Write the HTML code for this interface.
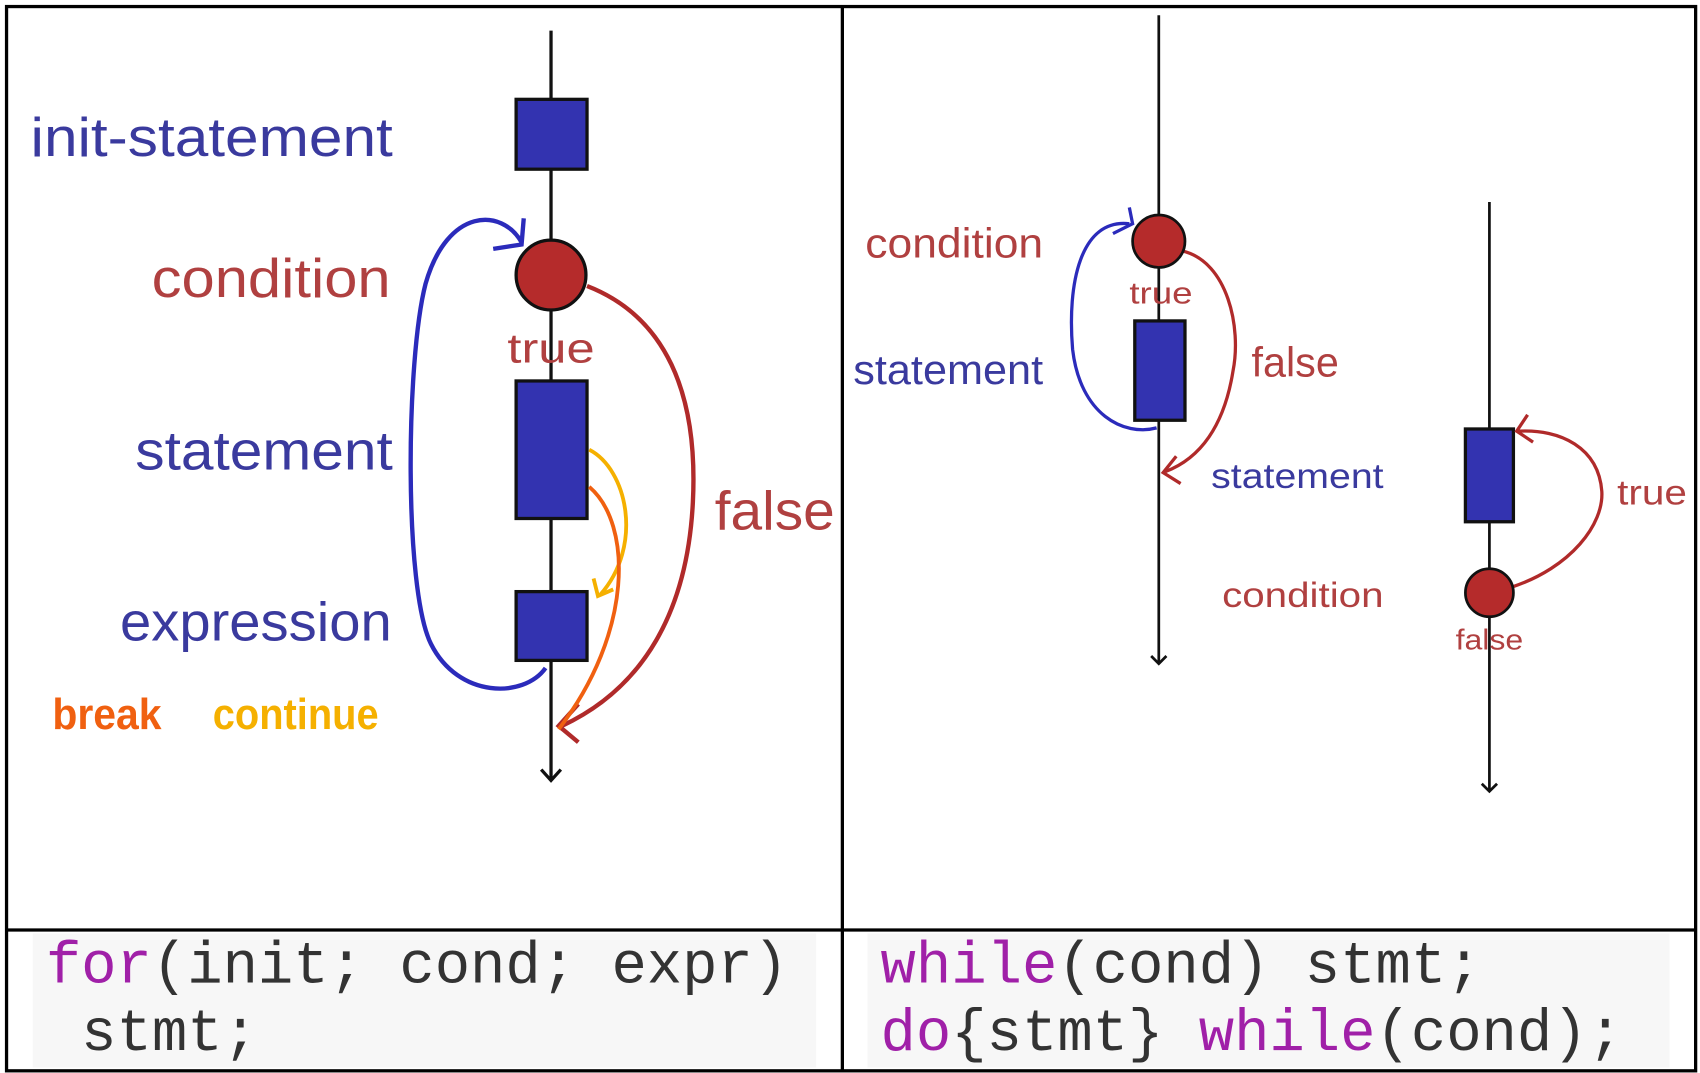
<!DOCTYPE html>
<html><head><meta charset="utf-8"><style>
html,body{margin:0;padding:0;background:#fff;}
svg{display:block;}
text{font-family:"Liberation Sans",sans-serif;}
.m{font-family:"Liberation Mono",monospace;font-size:54px;fill:#333;}
.k{fill:#a020a8;}
</style></head><body>
<svg width="1700" height="1073" viewBox="0 0 1558 983" preserveAspectRatio="none" xmlns="http://www.w3.org/2000/svg">
<rect x="0" y="0" width="1558" height="983" fill="#fff"/>
<rect x="30" y="855" width="718" height="123" fill="#f7f7f7"/>
<rect x="795" y="855" width="735" height="123" fill="#f7f7f7"/>
<rect x="6" y="6" width="1548" height="975" fill="none" stroke="#000" stroke-width="3"/>
<line x1="772" y1="6" x2="772" y2="981" stroke="#000" stroke-width="3"/>
<line x1="6" y1="852" x2="1554" y2="852" stroke="#000" stroke-width="3"/>

<!-- left diagram -->
<line x1="505" y1="28" x2="505" y2="715" stroke="#111" stroke-width="3"/>
<polyline points="496,705 505,715 514,705" fill="none" stroke="#111" stroke-width="3"/>
<rect x="473" y="91" width="65" height="64" fill="#3333b0" stroke="#111" stroke-width="3"/>
<rect x="473" y="349" width="65" height="126" fill="#3333b0" stroke="#111" stroke-width="3"/>
<rect x="473" y="542" width="65" height="63" fill="#3333b0" stroke="#111" stroke-width="3"/>
<path d="M500,612 C480,640 420,640 395,590 C370,540 372,330 390,260 C410,190 460,190 478,222" fill="none" stroke="#2b2bbb" stroke-width="4"/>
<polyline points="452,228 478,224 480,200" fill="none" stroke="#2b2bbb" stroke-width="4"/>
<path d="M538,262 C610,290 640,360 635,460 C630,560 590,630 515,665" fill="none" stroke="#b02a2a" stroke-width="4"/>
<polyline points="530,645 512,665 530,680" fill="none" stroke="#b02a2a" stroke-width="4"/>
<path d="M540,412 C575,430 590,500 550,545" fill="none" stroke="#f5b000" stroke-width="3.5"/>
<polyline points="544,530 548,546 562,540" fill="none" stroke="#f5b000" stroke-width="3.5"/>
<path d="M540,446 C580,480 580,580 512,668" fill="none" stroke="#f06010" stroke-width="3.5"/>
<circle cx="505" cy="252" r="32" fill="#b52b2b" stroke="#111" stroke-width="3"/>
<text x="28" y="143" font-size="50" fill="#3a3a9e" textLength="332" lengthAdjust="spacingAndGlyphs">init-statement</text>
<text x="139" y="272" font-size="50" fill="#b04040" textLength="219" lengthAdjust="spacingAndGlyphs">condition</text>
<text x="124" y="430" font-size="50" fill="#3a3a9e" textLength="236" lengthAdjust="spacingAndGlyphs">statement</text>
<text x="110" y="587" font-size="50" fill="#3a3a9e" textLength="249" lengthAdjust="spacingAndGlyphs">expression</text>
<text x="465" y="332" font-size="38" fill="#b04040" textLength="80" lengthAdjust="spacingAndGlyphs">true</text>
<text x="655" y="485" font-size="50" fill="#b04040" textLength="110" lengthAdjust="spacingAndGlyphs">false</text>
<text x="48" y="668" font-size="40" font-weight="bold" fill="#f06010" textLength="100" lengthAdjust="spacingAndGlyphs">break</text>
<text x="195" y="668" font-size="40" font-weight="bold" fill="#f5b000" textLength="152" lengthAdjust="spacingAndGlyphs">continue</text>

<!-- while -->
<line x1="1062" y1="14" x2="1062" y2="608" stroke="#111" stroke-width="2.5"/>
<polyline points="1055,601 1062,608 1069,601" fill="none" stroke="#111" stroke-width="2.5"/>
<rect x="1040" y="294" width="46" height="91" fill="#3333b0" stroke="#111" stroke-width="3"/>
<path d="M1060,392 C1030,400 990,380 983,320 C978,260 990,200 1035,205" fill="none" stroke="#2b2bbb" stroke-width="3"/>
<polyline points="1020,214 1038,205 1035,190" fill="none" stroke="#2b2bbb" stroke-width="3"/>
<path d="M1084,230 C1125,240 1138,300 1130,340 C1122,390 1100,420 1068,432" fill="none" stroke="#b02a2a" stroke-width="3"/>
<polyline points="1078,418 1066,433 1082,443" fill="none" stroke="#b02a2a" stroke-width="3"/>
<circle cx="1062" cy="221" r="24" fill="#b52b2b" stroke="#111" stroke-width="2.5"/>
<text x="1035" y="278" font-size="28" fill="#b04040" textLength="58" lengthAdjust="spacingAndGlyphs">true</text>
<text x="793" y="236" font-size="38" fill="#b04040" textLength="163" lengthAdjust="spacingAndGlyphs">condition</text>
<text x="782" y="352" font-size="38" fill="#3a3a9e" textLength="174" lengthAdjust="spacingAndGlyphs">statement</text>
<text x="1147" y="345" font-size="38" fill="#b04040" textLength="80" lengthAdjust="spacingAndGlyphs">false</text>
<text x="1110" y="447" font-size="32" fill="#3a3a9e" textLength="158" lengthAdjust="spacingAndGlyphs">statement</text>
<text x="1120" y="556" font-size="32" fill="#b04040" textLength="148" lengthAdjust="spacingAndGlyphs">condition</text>

<!-- do-while -->
<line x1="1365" y1="185" x2="1365" y2="725" stroke="#111" stroke-width="2.5"/>
<polyline points="1358,718 1365,725 1372,718" fill="none" stroke="#111" stroke-width="2.5"/>
<rect x="1343" y="393" width="44" height="85" fill="#3333b0" stroke="#111" stroke-width="3"/>
<path d="M1385,538 C1440,520 1470,480 1468,450 C1465,410 1430,393 1392,395" fill="none" stroke="#b02a2a" stroke-width="3"/>
<polyline points="1400,380 1390,395 1405,405" fill="none" stroke="#b02a2a" stroke-width="3"/>
<circle cx="1365" cy="543" r="22" fill="#b52b2b" stroke="#111" stroke-width="2.5"/>
<text x="1482" y="462" font-size="32" fill="#b04040" textLength="64" lengthAdjust="spacingAndGlyphs">true</text>
<text x="1334" y="595" font-size="26" fill="#b04040" textLength="62" lengthAdjust="spacingAndGlyphs">false</text>

<!-- code -->
<text class="m" x="42" y="900"><tspan class="k">for</tspan>(init; cond; expr)</text>
<text class="m" x="42" y="962">&#160;stmt;</text>
<text class="m" x="807" y="900"><tspan class="k">while</tspan>(cond) stmt;</text>
<text class="m" x="807" y="962"><tspan class="k">do</tspan>{stmt} <tspan class="k">while</tspan>(cond);</text>
</svg>
</body></html>
